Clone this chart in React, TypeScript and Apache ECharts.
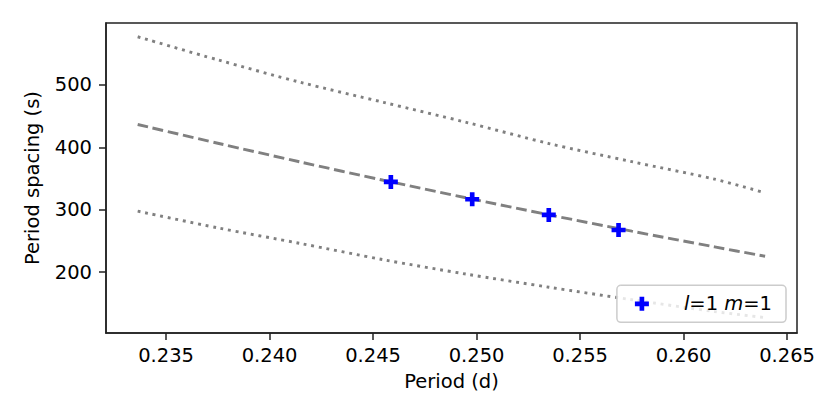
import React, { useEffect, useRef } from "react";
import * as echarts from "echarts";

const curveX = [0.23363, 0.2375, 0.2415, 0.2455, 0.2495, 0.2535, 0.2575, 0.2615, 0.26394];
const upperY = [577, 540, 504, 472, 440, 406, 377, 349, 327];
const middleY = [436.5, 406.5, 376.4, 347.2, 319.1, 291.9, 265.7, 240.5, 225.6];
const lowerY = [297.8, 271, 246, 220, 197, 176, 156, 137, 127.4];

const modeX = [0.24586, 0.24979, 0.25349, 0.25686];
const modeY = [344.6, 316.8, 291.7, 267.6];

const xTicks = [0.235, 0.24, 0.245, 0.25, 0.255, 0.26, 0.265];
const yTicks = [200, 300, 400, 500];

const plusPath = "path://M2,0H4V2H6V4H4V6H2V4H0V2H2Z";
const FONT = "DejaVu Sans";
const FS = 19.5;

export default function App() {
  const ref = useRef<HTMLDivElement>(null);
  useEffect(() => {
    if (!ref.current) return;
    document.body.style.margin = "0";
    const chart = echarts.init(ref.current, undefined, { renderer: "svg" });
    const zip = (xs: number[], ys: number[]) => xs.map((x, i) => [x, ys[i]]);
    const lineStyleBase = { color: "#808080", width: 2.9 };
    chart.setOption({
      animation: false,
      textStyle: { fontFamily: FONT },
      grid: {
        left: 106,
        top: 23,
        right: 43,
        bottom: 87,
        show: true,
        borderColor: "#222",
        borderWidth: 1.5,
        backgroundColor: "transparent",
      },
      xAxis: {
        type: "value",
        min: 0.2321,
        max: 0.26548,
        name: "Period (d)",
        nameLocation: "middle",
        nameGap: 38,
        nameTextStyle: { fontSize: FS, color: "#000", fontFamily: FONT },
        axisLine: { show: true, lineStyle: { color: "#222", width: 1.5 } },
        axisTick: { show: true, length: 7, lineStyle: { color: "#222", width: 1.5 }, customValues: xTicks },
        axisLabel: {
          fontSize: FS,
          color: "#000",
          margin: 12,
          fontFamily: FONT,
          customValues: xTicks,
          formatter: (v: number) => v.toFixed(3),
        },
        splitLine: { show: false },
      },
      yAxis: {
        type: "value",
        min: 102.7,
        max: 599,
        name: "Period spacing (s)",
        nameLocation: "middle",
        nameGap: 64,
        nameTextStyle: { fontSize: FS, color: "#000", fontFamily: FONT },
        axisLine: { show: true, lineStyle: { color: "#222", width: 1.5 } },
        axisTick: { show: true, length: 7, lineStyle: { color: "#222", width: 1.5 }, customValues: yTicks },
        axisLabel: {
          fontSize: FS,
          color: "#000",
          margin: 14,
          fontFamily: FONT,
          customValues: yTicks,
        },
        splitLine: { show: false },
      },
      legend: {
        show: true,
        data: [{ name: "l=1 m=1", icon: plusPath }],
        right: 54,
        bottom: 97.7,
        orient: "vertical",
        itemWidth: 14,
        itemHeight: 14,
        padding: [8.5, 14, 8.5, 18],
        backgroundColor: "rgba(255,255,255,0.8)",
        borderColor: "#cccccc",
        borderWidth: 1.5,
        borderRadius: 4,
        formatter: () => "{i|l}=1 {i|m}=1",
        textStyle: {
          fontSize: FS,
          color: "#000",
          fontFamily: FONT,
          padding: [0, 0, 0, 30],
          rich: {
            i: { fontStyle: "italic", fontSize: FS, color: "#000", fontFamily: FONT },
          },
        },
      },
      series: [
        {
          type: "line",
          name: "upper",
          data: zip(curveX, upperY),
          smooth: 0.3,
          showSymbol: false,
          symbol: "none",
          lineStyle: { ...lineStyleBase, type: [2.9, 4.8] },
          z: 2,
        },
        {
          type: "line",
          name: "middle",
          data: zip(curveX, middleY),
          smooth: 0.3,
          showSymbol: false,
          symbol: "none",
          lineStyle: { ...lineStyleBase, type: [10.8, 4.7] },
          z: 2,
        },
        {
          type: "line",
          name: "lower",
          data: zip(curveX, lowerY),
          smooth: 0.3,
          showSymbol: false,
          symbol: "none",
          lineStyle: { ...lineStyleBase, type: [2.9, 4.8] },
          z: 2,
        },
        {
          type: "scatter",
          name: "l=1 m=1",
          data: zip(modeX, modeY),
          symbol: plusPath,
          symbolSize: 14,
          itemStyle: { color: "#0000ff", opacity: 1 },
          z: 5,
        },
      ],
    });
    return () => chart.dispose();
  }, []);
  return <div ref={ref} style={{ width: 840, height: 420 }} />;
}
